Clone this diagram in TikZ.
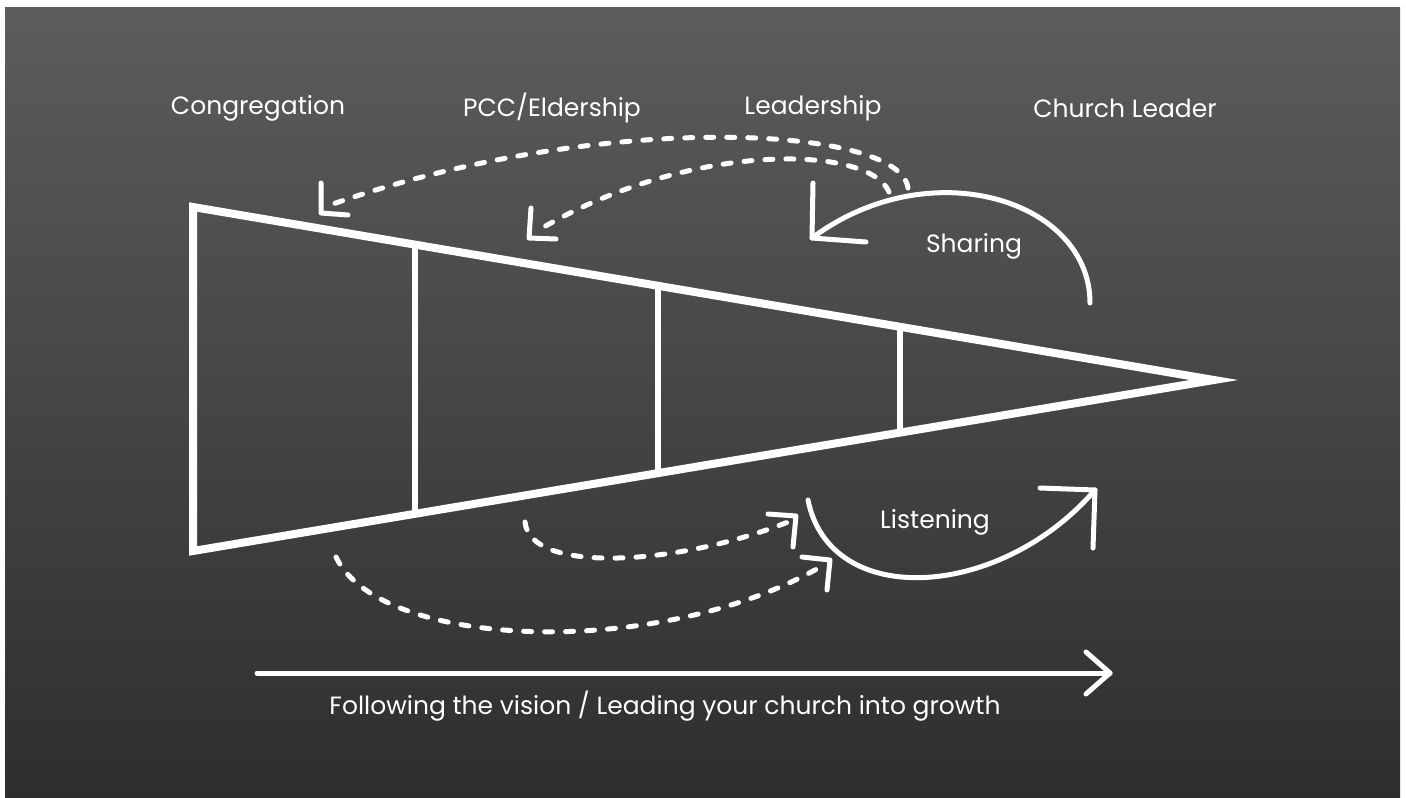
\documentclass[tikz,border=0pt]{standalone}
\usepackage{fontspec}
\setmainfont{Poppins}
\usetikzlibrary{calc}
\definecolor{boardtop}{RGB}{92,92,92}
\definecolor{boardmid}{RGB}{74,74,74}
\definecolor{boardbot}{RGB}{46,46,46}
\begin{document}
\begin{tikzpicture}[x=1pt,y=-1pt,
  chalk/.style={white, line width=5pt, line cap=round, line join=round},
  dots/.style={white, line width=5pt, line cap=round, dash pattern=on 8pt off 13pt},
  frame/.style={white, line width=8pt, line join=miter},
  lbl/.style={text=white, font=\fontsize{25}{30}\selectfont, inner sep=0pt}]
\useasboundingbox (0,0) rectangle (1406,798);
% board
\fill[white] (0,0) rectangle (1406,798);
\shade[top color=boardtop, middle color=boardmid, bottom color=boardbot] (5,7) rectangle (1400,798);
% triangle
\coordinate (TL) at (193,207);
\coordinate (BL) at (193,551);
\coordinate (tip) at (1214,380);
\draw[frame] (TL) -- (tip) -- (BL) -- cycle;
\foreach \t in {0.2174,0.4554,0.6925}
  \draw[white, line width=6pt] ($(TL)!\t!(tip)$) -- ($(BL)!\t!(tip)$);
% labels
\node[lbl] (cong) at (258,108) {Congregation};
\node[lbl] (pcc) at (552,108) {PCC/Eldership};
\node[lbl] (lead) at (813,108) {Leadership};
\node[lbl] (chl) at (1125,108) {Church Leader};
\node[lbl] (shr) at (974,246) {Sharing};
\node[lbl] (lst) at (935,522) {Listening};
% sharing arrow
\coordinate (s0) at (1090,303);
\coordinate (s1) at (812,238);
\draw[chalk] (s0) .. controls (1090,200) and (930,150) .. (s1);
\draw[chalk] (813,183) -- (s1) -- (866,242);
% listening arrow
\coordinate (l0) at (808,500);
\coordinate (l1) at (1095,490);
\draw[chalk] (l0) .. controls (830,610) and (1000,600) .. (l1);
\draw[chalk] (1040,488) -- (l1) -- (1093,548);
% top dashed arrows
\coordinate (a0) at (908,188);
\coordinate (a1) at (321,213);
\draw[dots] (a0) .. controls (900,125) and (600,110) .. (330,205);
\draw[chalk] (321,183) -- (a1) -- (348,215);
\coordinate (b0) at (889,192);
\coordinate (b1) at (529,238);
\draw[dots] (b0) .. controls (870,145) and (690,140) .. (537,231);
\draw[chalk] (531,208) -- (b1) -- (556,239);
% bottom dashed arrows
\coordinate (c0) at (525,522);
\coordinate (c1) at (796,516);
\draw[dots] (c0) .. controls (530,575) and (680,565) .. (788,522);
\draw[chalk] (768,514) -- (c1) -- (793,547);
\coordinate (d0) at (336,557);
\coordinate (d1) at (830,560);
\draw[dots] (d0) .. controls (380,650) and (660,660) .. (822,566);
\draw[chalk] (802,557) -- (d1) -- (827,590);
% bottom arrow
\coordinate (f0) at (257,673);
\coordinate (f1) at (1110,673);
\draw[chalk] (f0) -- (f1);
\draw[chalk] (1086,652) -- (f1) -- (1086,694);
\node[lbl] (follow) at (665,706) {Following the vision / Leading your church into growth};
\end{tikzpicture}
\end{document}
